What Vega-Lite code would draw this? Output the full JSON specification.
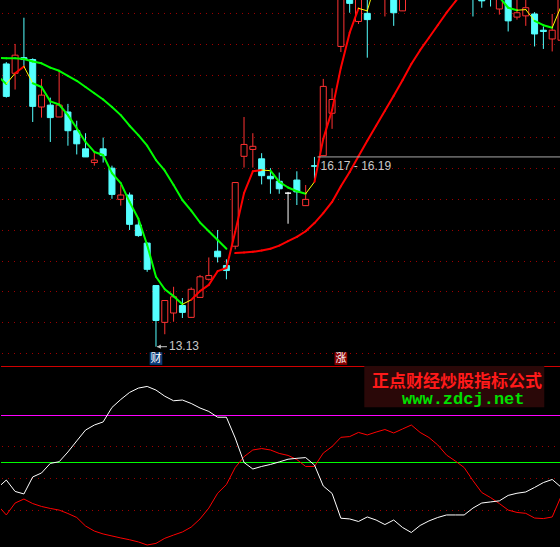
{
  "$schema": "https://vega.github.io/schema/vega-lite/v6.json",
  "background": "#000000",
  "padding": 0,
  "spacing": 0,
  "config": {"view": {"stroke": null}, "axis": {"disable": true}, "legend": {"disable": true}},
  "datasets": {
    "bars": [
      {"i":0,"o":17.66,"h":17.69,"l":17.12,"c":17.14},
      {"i":1,"o":17.51,"h":17.98,"l":17.25,"c":17.80},
      {"i":2,"o":17.76,"h":18.40,"l":17.62,"c":17.73},
      {"i":3,"o":17.73,"h":17.75,"l":16.73,"c":16.98},
      {"i":4,"o":16.97,"h":17.42,"l":16.80,"c":17.16},
      {"i":5,"o":17.00,"h":17.12,"l":16.41,"c":16.80},
      {"i":6,"o":16.81,"h":17.55,"l":16.81,"c":17.00},
      {"i":7,"o":16.89,"h":17.02,"l":16.35,"c":16.59},
      {"i":8,"o":16.59,"h":16.75,"l":16.21,"c":16.38},
      {"i":9,"o":16.30,"h":16.55,"l":16.17,"c":16.17},
      {"i":10,"o":16.08,"h":16.25,"l":16.03,"c":16.12},
      {"i":11,"o":16.30,"h":16.48,"l":16.08,"c":16.19},
      {"i":12,"o":15.99,"h":16.03,"l":15.50,"c":15.57},
      {"i":13,"o":15.49,"h":15.72,"l":15.39,"c":15.56},
      {"i":14,"o":15.56,"h":15.60,"l":15.00,"c":15.09},
      {"i":15,"o":15.08,"h":15.16,"l":14.89,"c":14.91},
      {"i":16,"o":14.79,"h":14.80,"l":14.33,"c":14.37},
      {"i":17,"o":14.11,"h":14.11,"l":13.13,"c":13.55},
      {"i":18,"o":13.52,"h":13.87,"l":13.33,"c":13.87},
      {"i":19,"o":13.67,"h":14.09,"l":13.53,"c":13.93},
      {"i":20,"o":13.79,"h":13.91,"l":13.59,"c":13.68},
      {"i":21,"o":13.60,"h":14.08,"l":13.59,"c":14.05},
      {"i":22,"o":13.92,"h":14.28,"l":13.92,"c":14.25},
      {"i":23,"o":14.21,"h":14.56,"l":14.19,"c":14.27},
      {"i":24,"o":14.66,"h":15.00,"l":14.48,"c":14.57},
      {"i":25,"o":14.43,"h":14.53,"l":14.21,"c":14.35},
      {"i":26,"o":14.74,"h":15.76,"l":14.69,"c":15.76},
      {"i":27,"o":16.18,"h":16.81,"l":16.00,"c":16.37},
      {"i":28,"o":16.29,"h":16.55,"l":16.00,"c":16.34},
      {"i":29,"o":16.14,"h":16.23,"l":15.73,"c":15.87},
      {"i":30,"o":15.86,"h":15.99,"l":15.58,"c":15.82},
      {"i":31,"o":15.78,"h":15.92,"l":15.58,"c":15.66},
      {"i":32,"o":15.59,"h":15.61,"l":15.10,"c":15.59},
      {"i":33,"o":15.80,"h":15.94,"l":15.40,"c":15.61},
      {"i":34,"o":15.39,"h":15.72,"l":15.39,"c":15.49},
      {"i":35,"o":16.03,"h":16.17,"l":15.82,"c":16.02},
      {"i":36,"o":16.19,"h":17.42,"l":16.19,"c":17.30},
      {"i":37,"o":16.87,"h":17.27,"l":16.62,"c":17.09},
      {"i":38,"o":17.94,"h":18.80,"l":17.85,"c":18.80},
      {"i":39,"o":18.81,"h":18.92,"l":18.48,"c":18.63},
      {"i":40,"o":18.34,"h":19.32,"l":18.30,"c":19.16},
      {"i":41,"o":18.47,"h":19.00,"l":17.76,"c":18.37},
      {"i":42,"o":18.90,"h":19.45,"l":18.75,"c":19.30},
      {"i":43,"o":18.90,"h":19.50,"l":18.42,"c":19.40},
      {"i":44,"o":19.10,"h":19.20,"l":18.27,"c":18.48},
      {"i":45,"o":18.51,"h":19.10,"l":18.51,"c":19.00},
      {"i":46,"o":19.00,"h":19.50,"l":18.90,"c":19.40},
      {"i":47,"o":19.50,"h":19.60,"l":19.00,"c":19.20},
      {"i":48,"o":19.20,"h":19.70,"l":19.10,"c":19.60},
      {"i":49,"o":19.60,"h":19.70,"l":19.20,"c":19.30},
      {"i":50,"o":19.30,"h":19.60,"l":19.20,"c":19.50},
      {"i":51,"o":19.50,"h":19.60,"l":18.90,"c":19.10},
      {"i":52,"o":19.10,"h":19.40,"l":18.95,"c":19.30},
      {"i":53,"o":19.00,"h":19.10,"l":18.42,"c":18.75},
      {"i":54,"o":18.85,"h":18.95,"l":18.56,"c":18.67},
      {"i":55,"o":19.00,"h":19.10,"l":18.58,"c":18.75},
      {"i":56,"o":18.54,"h":19.00,"l":18.45,"c":18.90},
      {"i":57,"o":18.95,"h":19.05,"l":18.18,"c":18.35},
      {"i":58,"o":18.41,"h":18.75,"l":18.37,"c":18.48},
      {"i":59,"o":18.43,"h":18.75,"l":18.27,"c":18.56},
      {"i":60,"o":18.46,"h":18.49,"l":17.94,"c":18.14},
      {"i":61,"o":18.20,"h":18.26,"l":17.90,"c":18.18},
      {"i":62,"o":18.06,"h":18.46,"l":17.86,"c":18.20},
      {"i":63,"o":18.04,"h":18.85,"l":18.00,"c":18.76}
    ],
    "ma": [
      {"i":-1,"ms":17.47,"ml":17.76},
      {"i":0,"ms":17.34,"ml":17.75},
      {"i":1,"ms":17.51,"ml":17.75},
      {"i":2,"ms":17.62,"ml":17.74},
      {"i":3,"ms":17.35,"ml":17.70},
      {"i":4,"ms":17.29,"ml":17.67},
      {"i":5,"ms":17.06,"ml":17.60},
      {"i":6,"ms":17.01,"ml":17.55},
      {"i":7,"ms":16.84,"ml":17.47},
      {"i":8,"ms":16.63,"ml":17.39},
      {"i":9,"ms":16.41,"ml":17.29},
      {"i":10,"ms":16.25,"ml":17.19},
      {"i":11,"ms":16.20,"ml":17.09},
      {"i":12,"ms":15.91,"ml":16.97},
      {"i":13,"ms":15.75,"ml":16.84},
      {"i":14,"ms":15.45,"ml":16.67},
      {"i":15,"ms":15.18,"ml":16.52},
      {"i":16,"ms":14.76,"ml":16.35},
      {"i":17,"ms":14.25,"ml":16.12},
      {"i":18,"ms":14.05,"ml":15.95},
      {"i":19,"ms":13.94,"ml":15.72},
      {"i":20,"ms":13.81,"ml":15.48},
      {"i":21,"ms":13.88,"ml":15.31},
      {"i":22,"ms":14.02,"ml":15.12},
      {"i":23,"ms":14.12,"ml":14.98},
      {"i":24,"ms":14.34,"ml":14.84},
      {"i":25,"ms":14.39,"ml":14.70},
      {"i":26,"ms":14.97,"ml":14.63},
      {"i":27,"ms":15.59,"ml":14.64},
      {"i":28,"ms":15.94,"ml":14.65},
      {"i":29,"ms":15.96,"ml":14.67},
      {"i":30,"ms":15.95,"ml":14.70},
      {"i":31,"ms":15.77,"ml":14.75},
      {"i":32,"ms":15.68,"ml":14.82},
      {"i":33,"ms":15.62,"ml":14.89},
      {"i":34,"ms":15.58,"ml":14.98},
      {"i":35,"ms":15.77,"ml":15.11},
      {"i":36,"ms":16.46,"ml":15.27},
      {"i":37,"ms":16.92,"ml":15.45},
      {"i":38,"ms":17.60,"ml":15.70},
      {"i":39,"ms":18.16,"ml":15.93},
      {"i":40,"ms":18.55,"ml":16.18},
      {"i":41,"ms":18.51,"ml":16.43},
      {"i":42,"ms":19.00,"ml":16.67},
      {"i":43,"ms":19.41,"ml":16.91},
      {"i":44,"ms":19.65,"ml":17.15},
      {"i":45,"ms":19.81,"ml":17.40},
      {"i":46,"ms":19.97,"ml":17.66},
      {"i":47,"ms":20.05,"ml":17.88},
      {"i":48,"ms":20.04,"ml":18.08},
      {"i":49,"ms":19.97,"ml":18.28},
      {"i":50,"ms":19.81,"ml":18.48},
      {"i":51,"ms":19.57,"ml":18.66},
      {"i":52,"ms":19.33,"ml":18.84},
      {"i":53,"ms":19.13,"ml":19.02},
      {"i":54,"ms":18.97,"ml":19.20},
      {"i":55,"ms":18.84,"ml":19.36},
      {"i":56,"ms":18.73,"ml":19.52},
      {"i":57,"ms":18.56,"ml":19.65},
      {"i":58,"ms":18.52,"ml":19.77},
      {"i":59,"ms":18.53,"ml":19.89},
      {"i":60,"ms":18.35,"ml":20.00},
      {"i":61,"ms":18.28,"ml":20.09},
      {"i":62,"ms":18.24,"ml":20.19},
      {"i":63,"ms":18.58,"ml":20.29}
    ],
    "ind": [
      {"i":-1,"w":32.6,"r":23.2},{"i":0,"w":37.0,"r":17.7},{"i":1,"w":30.7,"r":24.3},{"i":2,"w":29.3,"r":26.5},
      {"i":3,"w":38.7,"r":24.0},{"i":4,"w":40.9,"r":22.4},{"i":5,"w":46.2,"r":21.3},{"i":6,"w":47.1,"r":20.4},
      {"i":7,"w":52.5,"r":18.5},{"i":8,"w":58.6,"r":16.3},{"i":9,"w":64.6,"r":11.6},{"i":10,"w":67.4,"r":8.8},
      {"i":11,"w":69.1,"r":7.2},{"i":12,"w":77.1,"r":6.1},{"i":13,"w":81.5,"r":5.0},{"i":14,"w":85.4,"r":4.0},
      {"i":15,"w":87.8,"r":2.8},{"i":16,"w":88.7,"r":1.1},{"i":17,"w":86.7,"r":2.0},{"i":18,"w":83.3,"r":4.8},
      {"i":19,"w":80.8,"r":6.6},{"i":20,"w":81.2,"r":8.3},{"i":21,"w":79.3,"r":11.0},{"i":22,"w":76.8,"r":15.5},
      {"i":23,"w":74.9,"r":21.5},{"i":24,"w":71.7,"r":29.7},{"i":25,"w":71.7,"r":34.5},{"i":26,"w":60.2,"r":43.9},
      {"i":27,"w":46.7,"r":49.9},{"i":28,"w":43.1,"r":53.6},{"i":29,"w":44.5,"r":54.4},{"i":30,"w":45.6,"r":53.6},
      {"i":31,"w":47.0,"r":51.7},{"i":32,"w":48.5,"r":50.6},{"i":33,"w":49.0,"r":48.3},{"i":34,"w":49.4,"r":44.5},
      {"i":35,"w":45.3,"r":44.5},{"i":36,"w":33.7,"r":51.9},{"i":37,"w":29.6,"r":55.5},{"i":38,"w":15.9,"r":60.6},
      {"i":39,"w":15.5,"r":61.0},{"i":40,"w":14.1,"r":63.3},{"i":41,"w":16.6,"r":61.9},{"i":42,"w":14.9,"r":63.5},
      {"i":43,"w":12.4,"r":64.9},{"i":44,"w":14.9,"r":63.0},{"i":45,"w":10.8,"r":65.2},{"i":46,"w":8.0,"r":67.4},
      {"i":47,"w":11.9,"r":63.3},{"i":48,"w":14.4,"r":60.5},{"i":49,"w":16.3,"r":56.4},{"i":50,"w":17.7,"r":50.8},
      {"i":51,"w":17.7,"r":47.5},{"i":52,"w":17.7,"r":43.9},{"i":53,"w":21.5,"r":36.7},{"i":54,"w":24.3,"r":30.1},
      {"i":55,"w":24.9,"r":27.3},{"i":56,"w":25.5,"r":24.0},{"i":57,"w":28.5,"r":20.4},{"i":58,"w":29.7,"r":19.1},
      {"i":59,"w":30.4,"r":18.6},{"i":60,"w":32.9,"r":16.0},{"i":61,"w":35.6,"r":15.7},{"i":62,"w":37.3,"r":16.6},
      {"i":63,"w":33.1,"r":27.9}
    ],
    "priceGrid": [
      {"p":18.468},{"p":17.971},{"p":17.475},{"p":16.978},{"p":16.481},{"p":15.985},
      {"p":15.488},{"p":14.992},{"p":14.495},{"p":14.014},{"p":13.518},{"p":13.021}
    ],
    "indGrid": [{"v":55.52},{"v":37.85},{"v":20.17}],
    "events": [{"i":17,"t":"财"},{"i":38,"t":"涨"}],
    "gaps": [{"i":35,"lo":16.17,"hi":16.19}]
  },
  "vconcat": [
    {
      "width": 560,
      "height": 366,
      "layer": [
        {
          "data": {"name": "priceGrid"},
          "mark": {"type": "rule", "color": "#a00000", "strokeDash": [1, 5], "strokeWidth": 1},
          "encoding": {
            "y": {"field": "p", "type": "quantitative", "scale": {"domain": [12.821, 18.684], "nice": false, "zero": false, "padding": 0}}
          }
        },
        {
          "data": {"name": "bars"},
          "mark": {"type": "rule", "strokeWidth": 1, "clip": true},
          "encoding": {
            "x": {"field": "i", "type": "quantitative", "scale": {"domain": [-0.602, 63.0], "nice": false, "zero": false, "padding": 0}},
            "y": {"field": "l", "type": "quantitative"},
            "y2": {"field": "h"},
            "color": {
              "condition": [
                {"test": "datum.c > datum.o", "value": "#ff3232"},
                {"test": "datum.c < datum.o", "value": "#54ffff"}
              ],
              "value": "#ffffff"
            }
          }
        },
        {
          "data": {"name": "bars"},
          "mark": {"type": "bar", "size": 6, "strokeWidth": 1, "clip": true},
          "encoding": {
            "x": {"field": "i", "type": "quantitative"},
            "y": {"field": "o", "type": "quantitative"},
            "y2": {"field": "c"},
            "fill": {
              "condition": [
                {"test": "datum.c > datum.o", "value": "#000000"},
                {"test": "datum.c < datum.o", "value": "#54ffff"}
              ],
              "value": "#ffffff"
            },
            "stroke": {
              "condition": [
                {"test": "datum.c > datum.o", "value": "#ff3232"},
                {"test": "datum.c < datum.o", "value": "#54ffff"}
              ],
              "value": "#ffffff"
            }
          }
        },
        {
          "data": {"name": "ma"},
          "transform": [
            {"window": [
              {"op": "lead", "field": "ml", "as": "ml1"},
              {"op": "lead", "field": "ml", "param": 2, "as": "ml2"},
              {"op": "lead", "field": "i", "as": "i1"}
            ], "sort": [{"field": "i", "order": "ascending"}]},
            {"filter": "isValid(datum.i1)"},
            {"filter": "!isValid(datum.ml2) || ((datum.ml2 > datum.ml1) == (datum.ml1 > datum.ml))"}
          ],
          "mark": {"type": "rule", "strokeWidth": 2, "strokeCap": "round", "clip": true},
          "encoding": {
            "x": {"field": "i", "type": "quantitative"},
            "x2": {"field": "i1"},
            "y": {"field": "ml", "type": "quantitative"},
            "y2": {"field": "ml1"},
            "color": {"condition": {"test": "datum.ml1 > datum.ml", "value": "#ff0000"}, "value": "#00ff00"}
          }
        },
        {
          "data": {"name": "ma"},
          "transform": [
            {"window": [
              {"op": "lead", "field": "ms", "as": "ms1"},
              {"op": "lag", "field": "ms", "as": "ms0"},
              {"op": "lead", "field": "i", "as": "i1"}
            ], "sort": [{"field": "i", "order": "ascending"}]},
            {"filter": "isValid(datum.i1)"}
          ],
          "mark": {"type": "rule", "strokeCap": "round", "clip": true},
          "encoding": {
            "x": {"field": "i", "type": "quantitative"},
            "x2": {"field": "i1"},
            "y": {"field": "ms", "type": "quantitative"},
            "y2": {"field": "ms1"},
            "color": {
              "condition": [
                {"test": "isValid(datum.ms0) && ((datum.ms1 > datum.ms) != (datum.ms > datum.ms0))", "value": "#ffff00"},
                {"test": "datum.ms1 > datum.ms", "value": "#ff0000"}
              ],
              "value": "#00ff00"
            },
            "strokeWidth": {
              "condition": {"test": "isValid(datum.ms0) && ((datum.ms1 > datum.ms) != (datum.ms > datum.ms0))", "value": 1},
              "value": 2
            }
          }
        },
        {
          "data": {"name": "gaps"},
          "mark": {"type": "rule", "color": "#a8a8a8", "strokeWidth": 1, "xOffset": 3, "clip": true},
          "encoding": {
            "x": {"field": "i", "type": "quantitative"},
            "x2": {"datum": 64},
            "y": {"field": "lo", "type": "quantitative"}
          }
        },
        {
          "data": {"name": "gaps"},
          "transform": [{"calculate": "format(datum.lo, '.2f') + ' - ' + format(datum.hi, '.2f')", "as": "label"}],
          "mark": {"type": "text", "align": "left", "baseline": "top", "dx": 6, "dy": 4, "font": "Liberation Sans", "fontSize": 12, "color": "#c8c8c8"},
          "encoding": {
            "x": {"field": "i", "type": "quantitative"},
            "y": {"field": "lo", "type": "quantitative"},
            "text": {"field": "label"}
          }
        },
        {
          "data": {"name": "bars"},
          "transform": [{"filter": "datum.i == 17"}],
          "mark": {"type": "rule", "color": "#c8c8c8", "strokeWidth": 1, "xOffset": 1, "x2Offset": 11},
          "encoding": {
            "x": {"field": "i", "type": "quantitative"},
            "x2": {"field": "i"},
            "y": {"field": "l", "type": "quantitative"}
          }
        },
        {
          "data": {"name": "bars"},
          "transform": [{"filter": "datum.i == 17"}],
          "mark": {"type": "point", "shape": "triangle-left", "size": 18, "filled": true, "opacity": 1, "color": "#c8c8c8", "xOffset": 3},
          "encoding": {
            "x": {"field": "i", "type": "quantitative"},
            "y": {"field": "l", "type": "quantitative"}
          }
        },
        {
          "data": {"name": "bars"},
          "transform": [{"filter": "datum.i == 17"}],
          "mark": {"type": "text", "align": "left", "baseline": "middle", "dx": 13, "dy": -1, "font": "Liberation Sans", "fontSize": 12, "color": "#c8c8c8"},
          "encoding": {
            "x": {"field": "i", "type": "quantitative"},
            "y": {"field": "l", "type": "quantitative"},
            "text": {"field": "l", "format": ".2f"}
          }
        },
        {
          "data": {"name": "events"},
          "mark": {"type": "square", "size": 160, "filled": true, "opacity": 1},
          "encoding": {
            "x": {"field": "i", "type": "quantitative"},
            "y": {"datum": 12.94, "type": "quantitative"},
            "color": {"field": "t", "type": "nominal", "scale": {"domain": ["财", "涨"], "range": ["#0c3c78", "#8a0000"]}}
          }
        },
        {
          "data": {"name": "events"},
          "mark": {"type": "text", "align": "center", "baseline": "middle", "font": "Noto Sans CJK SC", "fontSize": 11, "color": "#ffffff"},
          "encoding": {
            "x": {"field": "i", "type": "quantitative"},
            "y": {"datum": 12.94, "type": "quantitative"},
            "text": {"field": "t"}
          }
        }
      ]
    },
    {
      "width": 560,
      "height": 181,
      "layer": [
        {
          "data": {"name": "indGrid"},
          "mark": {"type": "rule", "color": "#a00000", "strokeDash": [1, 5], "strokeWidth": 1},
          "encoding": {
            "y": {"field": "v", "type": "quantitative", "scale": {"domain": [0, 100], "nice": false, "zero": false, "padding": 0}}
          }
        },
        {
          "data": {"values": [{}]},
          "mark": {"type": "rule", "color": "#d00000", "strokeWidth": 1},
          "encoding": {"y": {"datum": 99.72, "type": "quantitative"}}
        },
        {
          "data": {"values": [{}]},
          "mark": {"type": "rule", "color": "#ff00ff", "strokeWidth": 1},
          "encoding": {"y": {"datum": 72.65, "type": "quantitative"}}
        },
        {
          "data": {"values": [{}]},
          "mark": {"type": "rule", "color": "#00ff00", "strokeWidth": 1},
          "encoding": {"y": {"datum": 46.69, "type": "quantitative"}}
        },
        {
          "data": {"name": "ind"},
          "mark": {"type": "line", "color": "#ff0000", "strokeWidth": 1, "clip": true},
          "encoding": {
            "x": {"field": "i", "type": "quantitative", "scale": {"domain": [-0.602, 63.0], "nice": false, "zero": false, "padding": 0}},
            "y": {"field": "r", "type": "quantitative"}
          }
        },
        {
          "data": {"name": "ind"},
          "mark": {"type": "line", "color": "#ffffff", "strokeWidth": 1, "clip": true},
          "encoding": {
            "x": {"field": "i", "type": "quantitative"},
            "y": {"field": "w", "type": "quantitative"}
          }
        },
        {
          "data": {"values": [{}]},
          "mark": {"type": "rect", "color": "#2a0808"},
          "encoding": {
            "x": {"datum": 40.66, "type": "quantitative"},
            "x2": {"datum": 61.1},
            "y": {"datum": 100, "type": "quantitative"},
            "y2": {"datum": 77.2}
          }
        },
        {
          "data": {"values": [{}]},
          "mark": {"type": "text", "align": "center", "baseline": "middle", "font": "Noto Sans CJK SC", "fontSize": 17, "fontWeight": "bold", "color": "#ff1a1a"},
          "encoding": {
            "x": {"datum": 51.2, "type": "quantitative"},
            "y": {"datum": 91.2, "type": "quantitative"},
            "text": {"value": "正点财经炒股指标公式"}
          }
        },
        {
          "data": {"values": [{}]},
          "mark": {"type": "text", "align": "center", "baseline": "middle", "font": "Liberation Mono", "fontSize": 17, "fontWeight": "bold", "color": "#00e000"},
          "encoding": {
            "x": {"datum": 51.9, "type": "quantitative"},
            "y": {"datum": 81.6, "type": "quantitative"},
            "text": {"value": "www.zdcj.net"}
          }
        }
      ]
    }
  ]
}
